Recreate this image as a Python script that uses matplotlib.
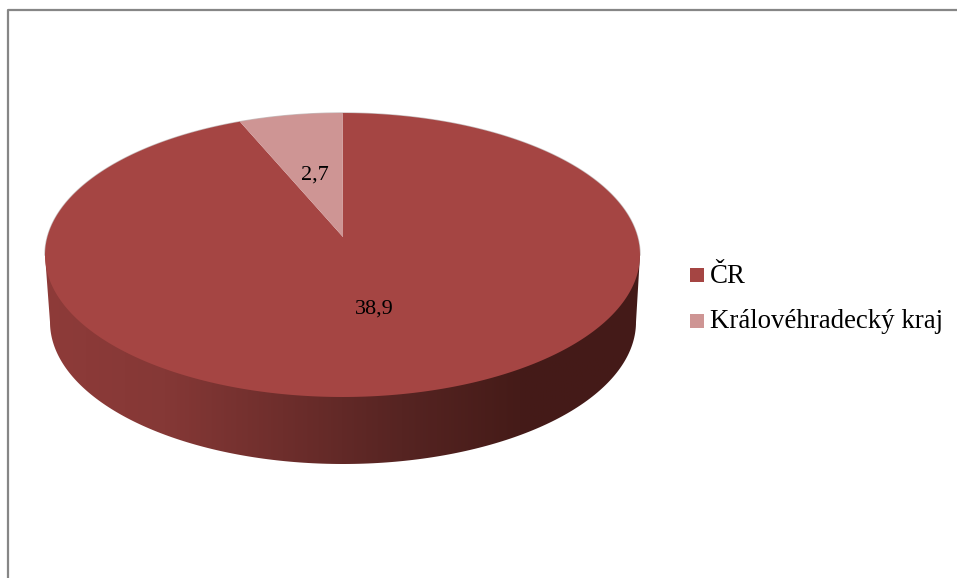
import numpy as np
import matplotlib
matplotlib.use('Agg')
import matplotlib.pyplot as plt
from matplotlib.colors import LinearSegmentedColormap
from matplotlib.patches import Polygon, Rectangle

categories = ['ČR', 'Královéhradecký kraj']
values = [38.9, 2.7]
colors = ['#A54543', '#CE9594']

plt.rcParams['font.family'] = ['Liberation Serif', 'DejaVu Sans']

fig = plt.figure(figsize=(9.57, 5.78), dpi=100)
ax = fig.add_axes([0, 0, 1, 1])
ax.set_xlim(0, 957)
ax.set_ylim(578, 0)  # pixel coordinates, y down
ax.axis('off')

# outer frame, only top and left are visible in the image
ax.plot([7.5, 7.5, 957], [578, 9.5, 9.5], color='#868686', lw=1.6, solid_capstyle='butt')

# top face of the disc
cx, cy = 342.5, 255
a, b = 297.5, 142
apex = (343, 237)  # perspective moves slice centre above the ellipse centre
persp = 0.85  # squeeze of the slice angle seen from this tilt


def rim(t):
    return cx - a * np.sin(t), cy - b * np.cos(t)


# side of the disc with gradient
cx2, cy2 = 343, 322
a2, b2 = 293, 142
t = np.linspace(-np.pi / 2, np.pi / 2, 200)
side_x = np.concatenate([cx2 + a2 * np.sin(t), [cx + a, cx - a]])
side_y = np.concatenate([cy2 + b2 * np.cos(t), [cy, cy]])
side_pts = np.column_stack([side_x[::-1], side_y[::-1]])
side = Polygon(side_pts, closed=True, fc='none', ec='none')
ax.add_patch(side)
side_cmap = LinearSegmentedColormap.from_list(
    'side', ['#8E3B39', '#853836', '#6E2E2C', '#562422', '#451B18', '#441A18'])
grad = ax.imshow(np.linspace(0, 1, 256).reshape(1, -1), extent=[45, 640, 470, 250],
                 cmap=side_cmap, aspect='auto', zorder=1)
grad.set_clip_path(side)
ax.set_xlim(0, 957)
ax.set_ylim(578, 0)

# soft grey rim, only on the back half of the top face
rt = np.linspace(-np.pi / 2, np.pi / 2, 200)
ax.plot(cx + a * np.sin(rt), cy - b * np.cos(rt), color='#C8BEBE', lw=1.0, zorder=2)

# slices, going from 12 o'clock to the left for the small one
small = values[1] / sum(values) * 2 * np.pi
t_small = np.arctan(np.tan(small) * persp)

back = np.linspace(0, t_small, 40)
x_s, y_s = rim(back)
big = np.linspace(t_small, 2 * np.pi, 400)
x_b, y_b = rim(big)
ax.add_patch(Polygon(np.column_stack([np.r_[apex[0], x_b], np.r_[apex[1], y_b]]),
                     closed=True, fc=colors[0], ec='none', zorder=3))
ax.add_patch(Polygon(np.column_stack([np.r_[apex[0], x_s], np.r_[apex[1], y_s]]),
                     closed=True, fc=colors[1], ec='none', zorder=4))

# data labels
ax.text(374.5, 309, f'{values[0]:.1f}'.replace('.', ','), fontsize=16,
        ha='center', va='center', color='black', zorder=5)
ax.text(315, 175, f'{values[1]:.1f}'.replace('.', ','), fontsize=16,
        ha='center', va='center', color='black', zorder=5)

# legend
for name, col, sq_y, base_y in zip(categories, colors, [268, 314], [283, 328]):
    ax.add_patch(Rectangle((690, sq_y), 14, 14, fc=col, ec='none', zorder=5))
    ax.text(709.5, base_y, name, fontsize=19.4, ha='left', va='baseline', color='black', zorder=5)

fig.savefig('out.png', dpi=100)
